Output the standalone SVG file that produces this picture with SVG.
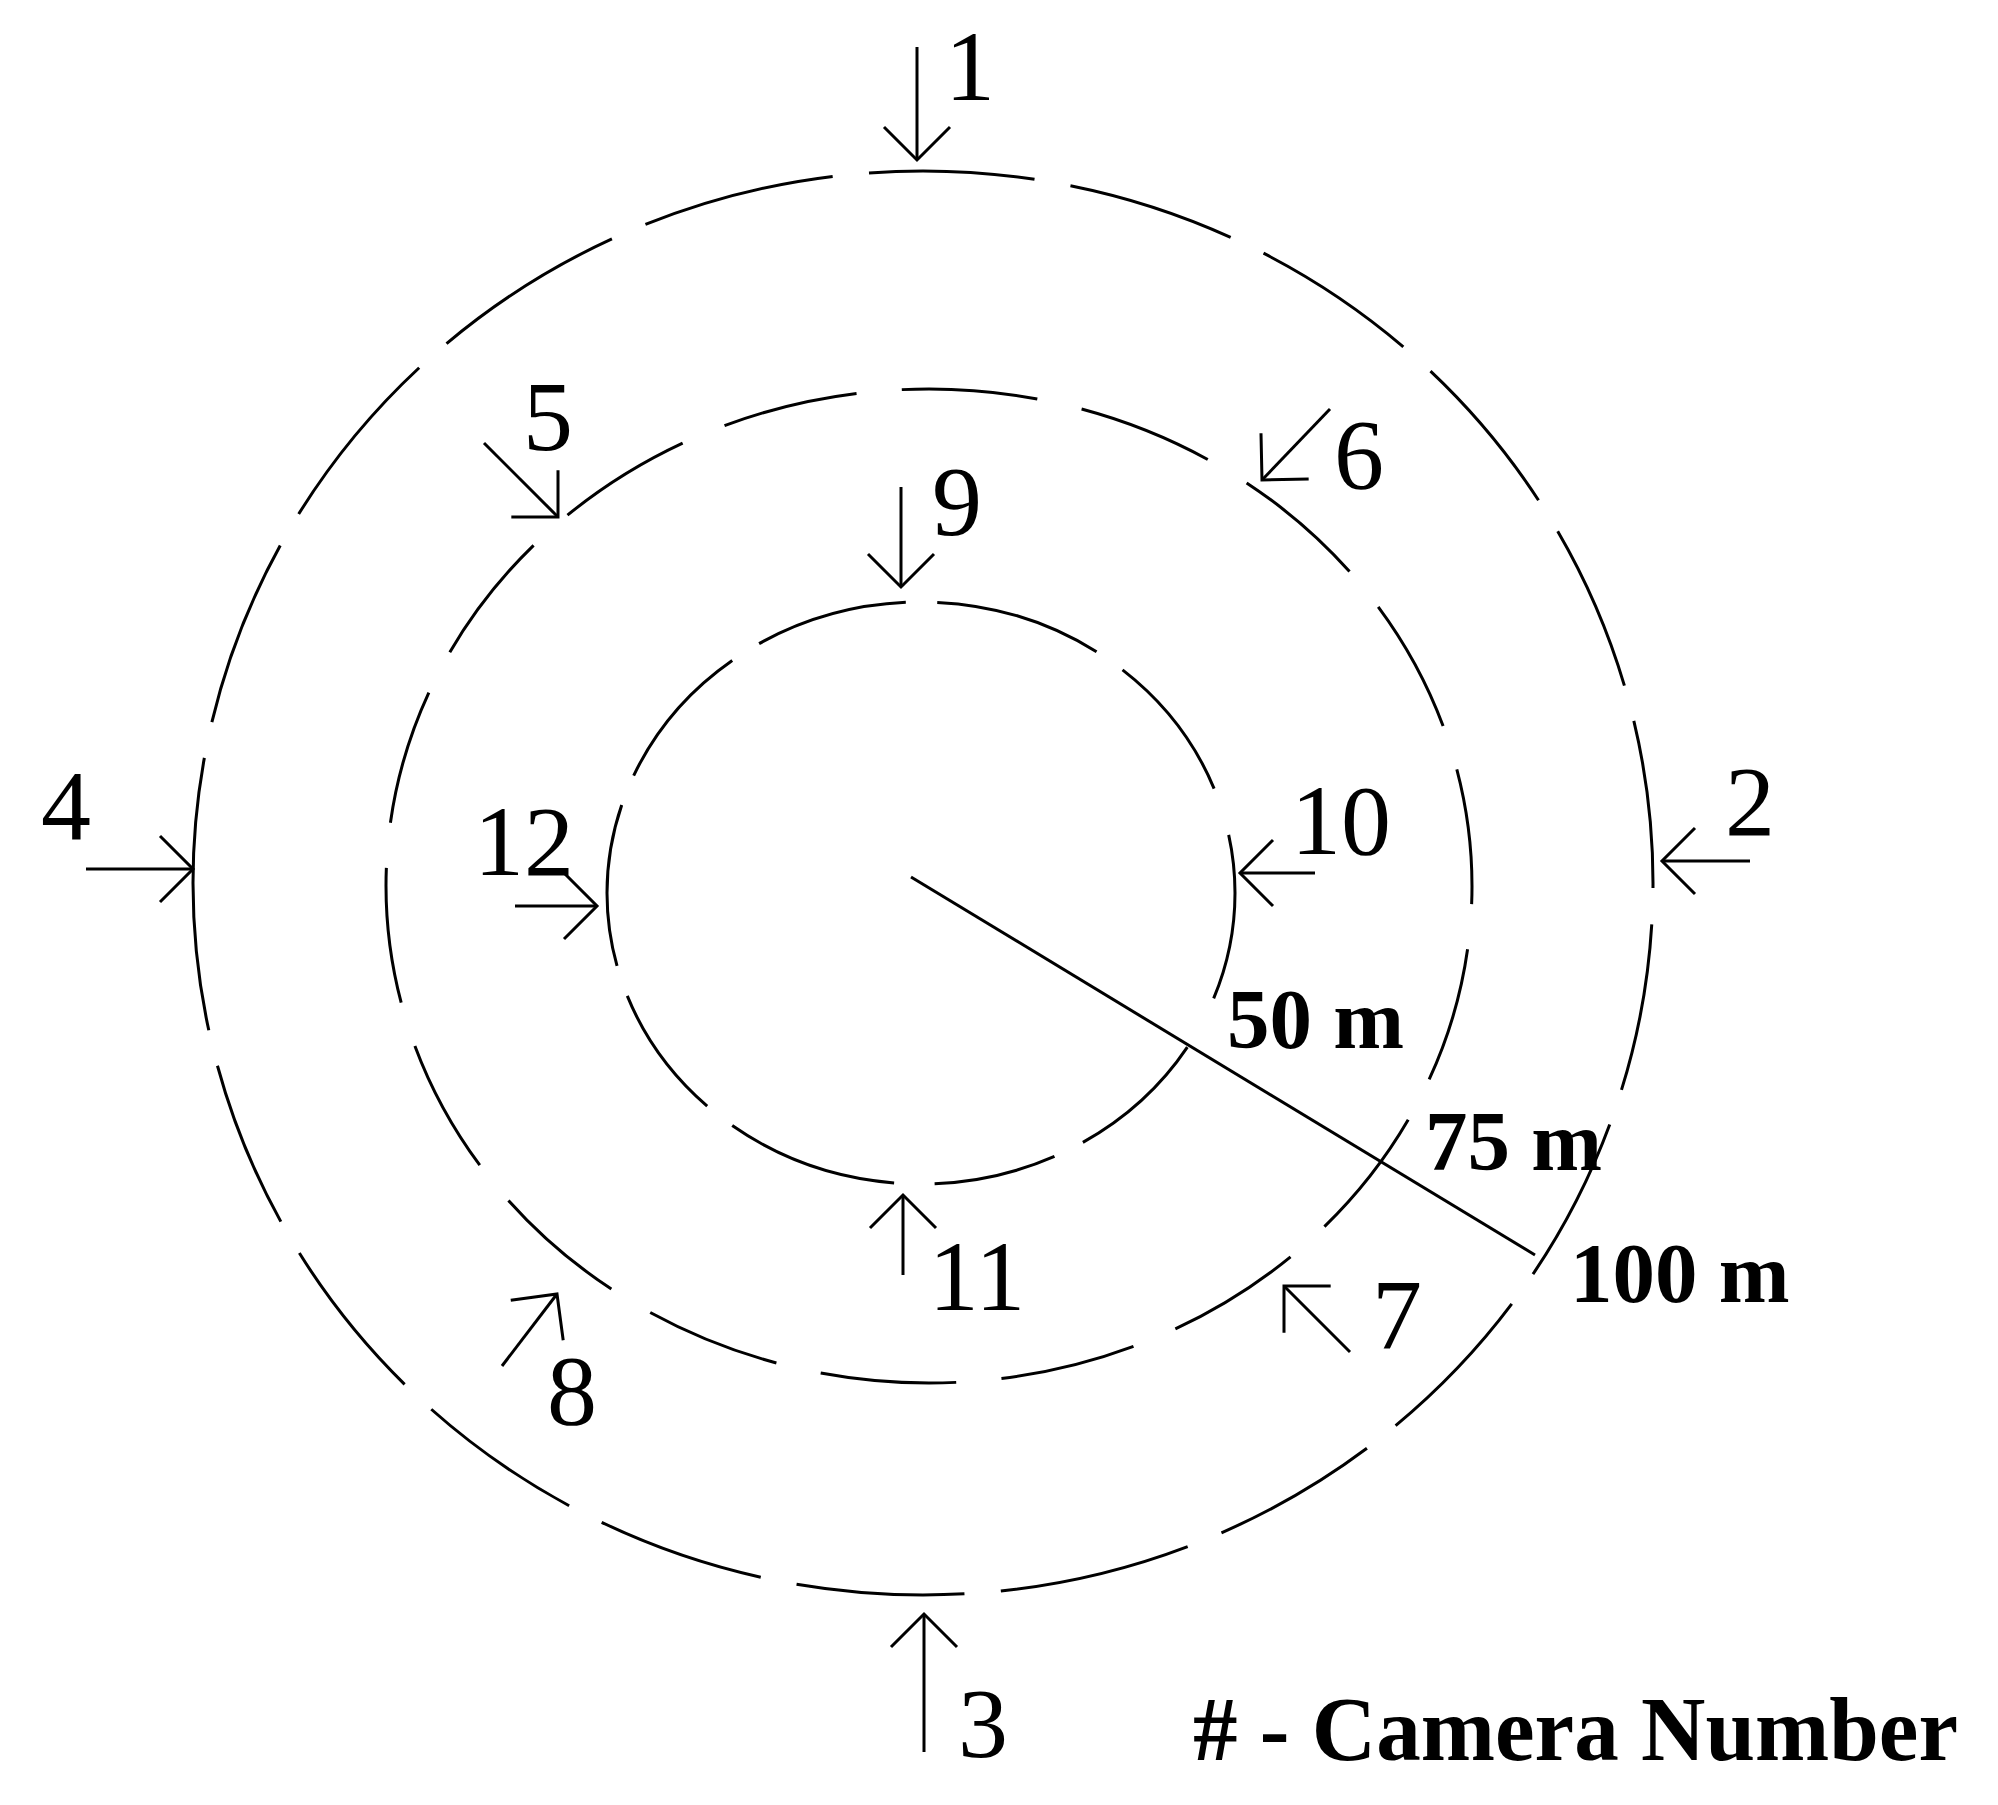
<svg xmlns="http://www.w3.org/2000/svg" width="1998" height="1805" viewBox="0 0 1998 1805">
<style>
.ring{fill:none;stroke:#000;stroke-width:3}
.arr{fill:none;stroke:#000;stroke-width:3;marker-end:url(#v)}
.num{font-family:"Liberation Serif",serif;font-size:100px;fill:#000;text-anchor:middle}
.dist{font-family:"Liberation Serif",serif;font-size:85px;font-weight:bold;fill:#000}
.leg{font-family:"Liberation Serif",serif;font-size:92px;font-weight:bold;fill:#000}
</style>
<defs>
<marker id="v" markerUnits="userSpaceOnUse" viewBox="-40 -40 80 80" markerWidth="80" markerHeight="80" refX="0" refY="0" orient="auto">
<path d="M-33,-33 L0,0 L-33,33" fill="none" stroke="#000" stroke-width="3"/>
</marker>
</defs>
<rect width="1998" height="1805" fill="#fff"/>
<g id="rings">
<ellipse id="ring-100" class="ring" cx="923" cy="883" rx="730" ry="712" pathLength="3600" stroke-dasharray="4 29 134 29 134 29 134 29 134 29 153 29 134 29 134 29 134 29 134 29 134 29 218 29 151 29 151 29 156 29 154 29 132 29 134 29 134 29 134 29 134 29 130 0"/>
<ellipse id="ring-75" class="ring" cx="929" cy="886" rx="543" ry="497" pathLength="3600" stroke-dasharray="150 50" stroke-dashoffset="130"/>
<ellipse id="ring-50" class="ring" cx="921" cy="893" rx="314" ry="291" pathLength="3600" stroke-dasharray="205 105 270 60 234 77 329 60 260 60 310 60 290 60 291 60 319 60 287 92 111 0"/>
</g>
<g id="connectors">
<line id="radius" x1="911" y1="877" x2="1535" y2="1255" stroke="#000" stroke-width="3"/>
<line class="arr" x1="917" y1="47" x2="917" y2="160"/>
<line class="arr" x1="1750" y1="861" x2="1662" y2="861"/>
<line class="arr" x1="924" y1="1752" x2="924" y2="1614"/>
<line class="arr" x1="86" y1="869" x2="193" y2="869"/>
<line class="arr" x1="484" y1="443" x2="558" y2="517"/>
<line class="arr" x1="1330" y1="409" x2="1262" y2="480"/>
<line class="arr" x1="1350" y1="1352" x2="1284" y2="1286"/>
<line class="arr" x1="502" y1="1366" x2="557" y2="1294"/>
<line class="arr" x1="901" y1="487" x2="901" y2="587"/>
<line class="arr" x1="1315" y1="873" x2="1240" y2="873"/>
<line class="arr" x1="903" y1="1275" x2="903" y2="1195"/>
<line class="arr" x1="515" y1="906" x2="597" y2="906"/>
</g>
<g id="cam1"><text class="num" x="970" y="100">1</text></g>
<g id="cam2"><text class="num" x="1750" y="835">2</text></g>
<g id="cam3"><text class="num" x="983" y="1757">3</text></g>
<g id="cam4"><text class="num" x="66" y="839">4</text></g>
<g id="cam5"><text class="num" x="548" y="450">5</text></g>
<g id="cam6"><text class="num" x="1359" y="488">6</text></g>
<g id="cam7"><text class="num" x="1397" y="1348">7</text></g>
<g id="cam8"><text class="num" x="572" y="1424">8</text></g>
<g id="cam9"><text class="num" x="957" y="535">9</text></g>
<g id="cam10"><text class="num" x="1341" y="854">10</text></g>
<g id="cam11"><text class="num" x="977" y="1310">11</text></g>
<g id="cam12"><text class="num" x="524" y="875">12</text></g>
<g id="labels">
<text class="dist" x="1227" y="1048">50 m</text>
<text class="dist" x="1425" y="1170">75 m</text>
<text class="dist" x="1570" y="1302">100 m</text>
<text class="leg" x="1193" y="1760" textLength="765" lengthAdjust="spacingAndGlyphs"># - Camera Number</text>
</g>
</svg>
